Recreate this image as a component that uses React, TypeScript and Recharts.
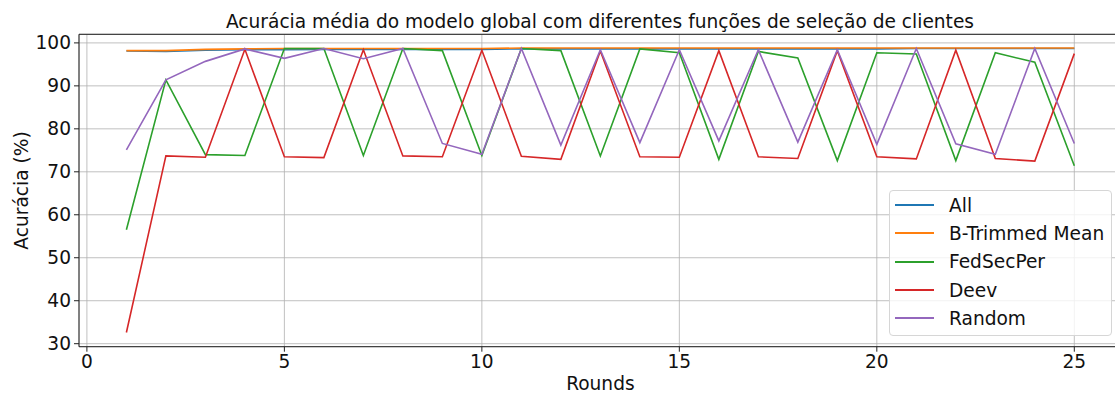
import React from "react";
import {
  LineChart,
  Line,
  XAxis,
  YAxis,
  CartesianGrid,
  Legend,
  Label,
  ReferenceLine,
} from "recharts";

// rounds 1..25
const rounds = [
  1, 2, 3, 4, 5, 6, 7, 8, 9, 10, 11, 12, 13, 14, 15, 16, 17, 18, 19, 20, 21,
  22, 23, 24, 25,
];

const allAcc = [
  98.1, 98.0, 98.3, 98.4, 98.4, 98.5, 98.5, 98.5, 98.5, 98.5, 98.6, 98.6,
  98.6, 98.6, 98.6, 98.6, 98.6, 98.6, 98.6, 98.6, 98.7, 98.7, 98.7, 98.7,
  98.7,
];
const trimmedAcc = [
  98.2, 98.2, 98.5, 98.6, 98.7, 98.7, 98.7, 98.7, 98.7, 98.7, 98.8, 98.8,
  98.8, 98.8, 98.8, 98.8, 98.8, 98.8, 98.8, 98.8, 98.8, 98.8, 98.8, 98.8,
  98.8,
];
const fedSecPerAcc = [
  56.5, 91.4, 74.0, 73.8, 98.7, 98.7, 73.8, 98.7, 98.2, 73.8, 98.7, 98.2,
  73.7, 98.6, 97.7, 72.9, 98.0, 96.5, 72.6, 97.7, 97.4, 72.6, 97.7, 95.5,
  71.4,
];
const deevAcc = [
  32.6, 73.7, 73.4, 98.5, 73.5, 73.3, 98.4, 73.7, 73.5, 98.3, 73.6, 72.9,
  98.1, 73.5, 73.4, 98.2, 73.5, 73.1, 98.2, 73.5, 73.0, 98.3, 73.1, 72.5,
  97.5,
];
const randomAcc = [
  75.1, 91.4, 95.7, 98.6, 96.4, 98.7, 96.3, 98.7, 76.6, 74.1, 98.7, 76.2,
  98.4, 76.8, 98.4, 77.2, 98.4, 76.9, 98.4, 76.4, 98.7, 76.5, 74.1, 98.7,
  76.6,
];

const xTicks = [0, 5, 10, 15, 20, 25];
const yTicks = [30, 40, 50, 60, 70, 80, 90, 100];

const series = [
  { key: "all", name: "All", color: "#1f77b4" },
  { key: "trimmed", name: "B-Trimmed Mean", color: "#ff7f0e" },
  { key: "fedsecper", name: "FedSecPer", color: "#2ca02c" },
  { key: "deev", name: "Deev", color: "#d62728" },
  { key: "random", name: "Random", color: "#9467bd" },
];

const data = rounds.map((r, i) => ({
  round: r,
  all: allAcc[i],
  trimmed: trimmedAcc[i],
  fedsecper: fedSecPerAcc[i],
  deev: deevAcc[i],
  random: randomAcc[i],
}));

const FONT = "'DejaVu Sans', sans-serif";
const FS = 18.6;
const tickStyle = { fontFamily: FONT, fontSize: FS, fill: "#111" };

function LegendBox() {
  return (
    <div
      style={{
        width: 223,
        height: 146,
        boxSizing: "border-box",
        border: "1px solid #d6d6d6",
        borderRadius: 4,
        background: "rgba(255,255,255,0.8)",
        fontFamily: FONT,
        fontSize: FS,
        color: "#111",
      }}
    >
      {series.map((s) => (
        <div
          key={s.key}
          style={{ display: "flex", alignItems: "center", height: 28.3 }}
        >
          <span
            style={{
              display: "inline-block",
              width: 39,
              height: 0,
              borderTop: `2px solid ${s.color}`,
              marginLeft: 5,
              marginRight: 15,
            }}
          />
          <span>{s.name}</span>
        </div>
      ))}
    </div>
  );
}

export default function App() {
  return (
    <div
      style={{
        position: "absolute",
        left: 0,
        top: 0,
        width: 1115,
        height: 394,
        overflow: "hidden",
        background: "#fff",
      }}
    >
      <div
        style={{
          position: "absolute",
          left: 0,
          top: 11.2,
          width: 1200,
          textAlign: "center",
          fontFamily: FONT,
          fontSize: FS,
          lineHeight: "21px",
          color: "#111",
        }}
      >
        Acurácia média do modelo global com diferentes funções de seleção de
        clientes
      </div>
      <LineChart
        width={1125}
        height={394}
        data={data}
        margin={{ top: 34.3, right: 3.3, bottom: 0, left: 0 }}
      >
        <CartesianGrid stroke="#b0b0b0" strokeWidth={0.8} />
        <XAxis
          dataKey="round"
          type="number"
          domain={[-0.2, 26.2]}
          ticks={xTicks}
          allowDataOverflow
          height={47.3}
          tick={tickStyle}
          tickSize={5}
          tickMargin={3}
          stroke="#222"
        >
          <Label
            content={() => (
              <text
                x={600.4}
                y={390}
                textAnchor="middle"
                fontFamily={FONT}
                fontSize={FS}
                fill="#111"
              >
                Rounds
              </text>
            )}
          />
        </XAxis>
        <YAxis
          type="number"
          domain={[29.3, 102]}
          ticks={yTicks}
          allowDataOverflow
          width={79}
          tick={tickStyle}
          tickSize={5}
          tickMargin={3}
          stroke="#222"
        >
          <Label
            content={() => (
              <text
                x={27.5}
                y={190.5}
                transform="rotate(-90, 27.5, 190.5)"
                textAnchor="middle"
                fontFamily={FONT}
                fontSize={FS}
                fill="#111"
              >
                Acurácia (%)
              </text>
            )}
          />
        </YAxis>
        <ReferenceLine y={102} stroke="#222" strokeWidth={1} />
        {series.map((s) => (
          <Line
            key={s.key}
            type="linear"
            dataKey={s.key}
            name={s.name}
            stroke={s.color}
            strokeWidth={1.6}
            dot={false}
            activeDot={false}
            isAnimationActive={false}
          />
        ))}
        <Legend
          layout="vertical"
          align="center"
          verticalAlign="middle"
          wrapperStyle={{ left: 889, top: 190, width: 223 }}
          content={() => <LegendBox />}
        />
      </LineChart>
    </div>
  );
}
